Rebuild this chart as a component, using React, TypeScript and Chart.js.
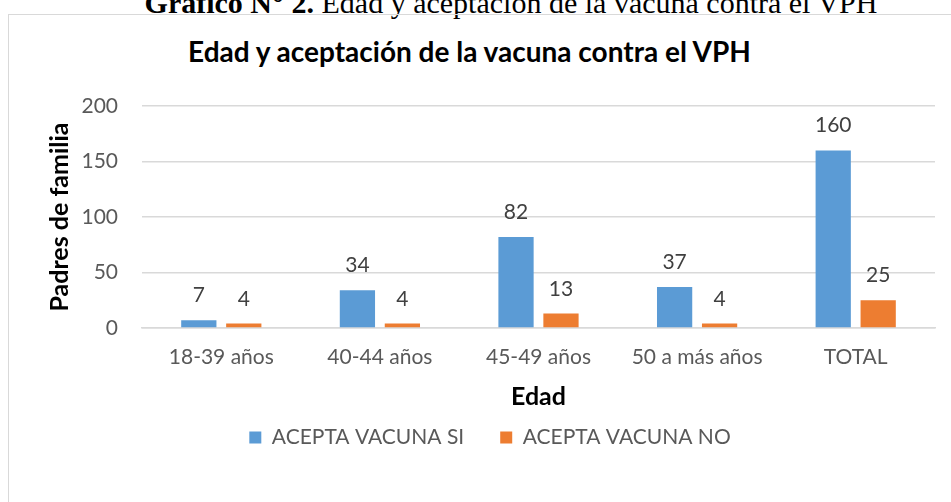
import React, { useEffect, useRef } from "react";
import { Chart, registerables } from "chart.js";

Chart.register(...registerables);

const categories = ["18-39 años", "40-44 años", "45-49 años", "50 a más años", "TOTAL"];
const aceptaSi = [7, 34, 82, 37, 160];
const aceptaNo = [4, 4, 13, 4, 25];
const seriesNames = ["ACEPTA VACUNA SI", "ACEPTA VACUNA NO"];
const yTickValues = [0, 50, 100, 150, 200];

const captionBold = "Gráfico N° 2.";
const captionRest = " Edad y aceptación de la vacuna contra el VPH";
const chartTitle = "Edad y aceptación de la vacuna contra el VPH";
const yTitle = "Padres de familia";
const xTitle = "Edad";

const dataLabels = {
  id: "dataLabels",
  afterDatasetsDraw(chart: any) {
    const ctx = chart.ctx;
    ctx.save();
    ctx.font = "21px Lato";
    ctx.fillStyle = "#404040";
    ctx.textAlign = "center";
    ctx.textBaseline = "alphabetic";
    chart.data.datasets.forEach((ds: any, i: number) => {
      const meta = chart.getDatasetMeta(i);
      meta.data.forEach((bar: any, j: number) => {
        ctx.fillText(String(ds.data[j]), bar.x, bar.y - 18);
      });
    });
    ctx.restore();
  },
};

export default function App() {
  const ref = useRef<HTMLCanvasElement | null>(null);

  useEffect(() => {
    if (!ref.current) return;
    const chart = new Chart(ref.current, {
      type: "bar",
      data: {
        labels: categories,
        datasets: [
          { label: seriesNames[0], data: aceptaSi, backgroundColor: "#5B9BD5" },
          { label: seriesNames[1], data: aceptaNo, backgroundColor: "#ED7D31" },
        ],
      },
      plugins: [dataLabels],
      options: {
        animation: false,
        responsive: false,
        devicePixelRatio: 1,
        layout: { padding: { left: 45, right: 16, top: 106, bottom: 44 } },
        datasets: {
          bar: { categoryPercentage: 0.567, barPercentage: 0.784 },
        },
        plugins: {
          title: { display: false },
          tooltip: { enabled: false },
          legend: {
            position: "bottom",
            labels: {
              boxWidth: 12,
              boxHeight: 12,
              padding: 36,
              color: "#595959",
              font: { family: "Lato", size: 21 },
            },
          },
        },
        scales: {
          x: {
            grid: { display: false, drawTicks: false },
            border: { display: true, color: "#D9D9D9", width: 1.5 },
            ticks: { color: "#595959", font: { family: "Lato", size: 21 }, padding: 17, maxRotation: 0 },
            title: {
              display: true,
              text: xTitle,
              color: "#000000",
              font: { family: "Lato", size: 25, weight: "bold" },
              padding: { top: 0, bottom: -21 },
            },
            afterFit: (scale: any) => {
              scale.height = 63;
            },
          },
          y: {
            min: 0,
            max: 200,
            afterBuildTicks: (scale: any) => {
              scale.ticks = yTickValues.map((v) => ({ value: v }));
            },
            grid: { color: "#D9D9D9", lineWidth: 1.5, drawTicks: false },
            border: { display: false },
            ticks: { color: "#595959", font: { family: "Lato", size: 21 }, padding: 24 },
            title: {
              display: true,
              text: yTitle,
              color: "#000000",
              font: { family: "Lato", size: 25, weight: "bold" },
              padding: { top: 0, bottom: 0 },
            },
            afterFit: (scale: any) => {
              scale.width = 97;
            },
          },
        },
      },
    });
    return () => chart.destroy();
  }, []);

  return (
    <div
      style={{
        position: "fixed",
        left: 0,
        top: 0,
        width: 951,
        height: 502,
        overflow: "hidden",
        background: "#ffffff",
      }}
    >
      <div
        style={{
          position: "absolute",
          left: 0,
          top: -12,
          width: 1022,
          textAlign: "center",
          whiteSpace: "nowrap",
          fontFamily: "'Liberation Serif', 'Times New Roman', serif",
          fontSize: 30,
          lineHeight: "30px",
          color: "#000",
        }}
      >
        <b>{captionBold}</b>
        {captionRest}
      </div>
      <div
        style={{
          position: "absolute",
          left: 8,
          top: 14,
          width: 1000,
          height: 600,
          border: "1.5px solid #D9D9D9",
          boxSizing: "border-box",
        }}
      />
      <div
        style={{
          position: "absolute",
          left: 0,
          top: 35,
          width: 939,
          textAlign: "center",
          whiteSpace: "nowrap",
          fontFamily: "Lato",
          fontWeight: "bold",
          fontSize: 28,
          lineHeight: "33.6px",
          color: "#000",
        }}
      >
        {chartTitle}
      </div>
      <canvas
        ref={ref}
        width={951}
        height={502}
        style={{ position: "absolute", left: 0, top: 0, width: 951, height: 502 }}
      />
    </div>
  );
}
